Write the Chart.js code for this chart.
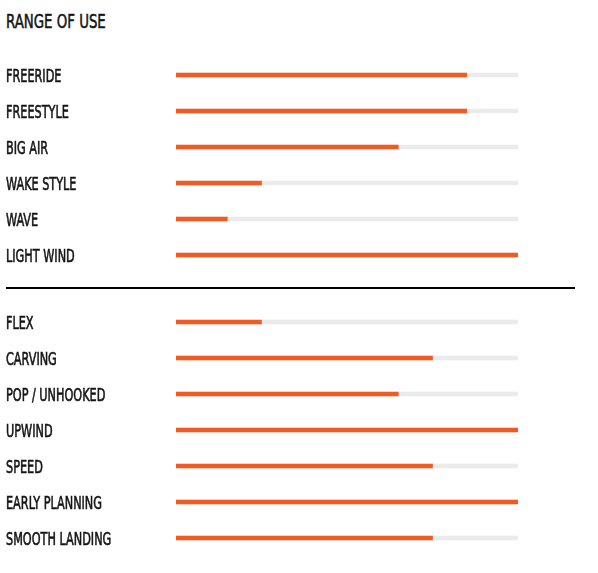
<!DOCTYPE html>
<html lang="en">
<head>
    <meta charset="UTF-8">
    <title>Range of Use</title>
    <script src="https://cdn.jsdelivr.net/npm/chart.js"></script>
    <style>
        body {
            margin: 0;
            background: #fff;
            font-family: "DejaVu Sans Condensed", "DejaVu Sans", sans-serif;
            color: #141414;
        }
        .title {
            position: absolute;
            left: 6px;
            top: 12px;
            font-size: 19px;
            line-height: 19px;
            white-space: nowrap;
            -webkit-text-stroke: 0.5px #141414;
            transform: scaleX(0.78);
            transform-origin: left top;
        }
        .box {
            position: absolute;
            left: 6px;
            width: 512px;
        }
        .divider {
            position: absolute;
            left: 6px;
            top: 287px;
            width: 569px;
            height: 2px;
            background: #000;
        }
    </style>
</head>
<body>

    <div class="title">RANGE OF USE</div>
    <div class="box" style="top:57px;height:216px"><canvas id="useChart"></canvas></div>
    <div class="divider"></div>
    <div class="box" style="top:304px;height:252px"><canvas id="feelChart"></canvas></div>

    <script>
        const useLabels = ["FREERIDE", "FREESTYLE", "BIG AIR", "WAKE STYLE", "WAVE", "LIGHT WIND"];
        const useValues = [85, 85, 65, 25, 15, 100];

        const feelLabels = ["FLEX", "CARVING", "POP / UNHOOKED", "UPWIND", "SPEED", "EARLY PLANNING", "SMOOTH LANDING"];
        const feelValues = [25, 75, 65, 100, 75, 100, 75];

        const maxValue = 100;

        // the label font is a narrow one; squeeze DejaVu to get close
        const narrowLabels = {
            id: 'narrowLabels',
            afterDraw(chart) {
                const scale = chart.scales.y;
                const ctx = chart.ctx;
                ctx.save();
                ctx.font = '18px "DejaVu Sans Condensed", "DejaVu Sans", sans-serif';
                ctx.fillStyle = '#141414';
                ctx.strokeStyle = '#141414';
                ctx.lineWidth = 0.6;
                ctx.textBaseline = 'alphabetic';
                ctx.textAlign = 'left';
                scale.ticks.forEach((t, i) => {
                    const y = scale.getPixelForTick(i);
                    const label = scale.getLabelForValue(t.value);
                    ctx.save();
                    ctx.translate(scale.left, y + 6.5);
                    ctx.scale(0.695, 1);
                    ctx.fillText(label, 0, 0);
                    ctx.strokeText(label, 0, 0);
                    ctx.restore();
                });
                ctx.restore();
            }
        };

        function makeChart(id, labels, values) {
            new Chart(document.getElementById(id), {
                type: 'bar',
                data: {
                    labels: labels,
                    datasets: [
                        {
                            data: values,
                            backgroundColor: '#f15a22',
                            barThickness: 4,
                            borderWidth: 0
                        },
                        {
                            data: labels.map(() => maxValue),
                            backgroundColor: '#ebebeb',
                            barThickness: 4,
                            borderWidth: 0
                        }
                    ]
                },
                options: {
                    indexAxis: 'y',
                    responsive: true,
                    maintainAspectRatio: false,
                    animation: false,
                    grouped: false,
                    layout: { padding: 0 },
                    plugins: {
                        legend: { display: false },
                        tooltip: { enabled: false }
                    },
                    scales: {
                        x: {
                            display: false,
                            min: 0,
                            max: maxValue
                        },
                        y: {
                            grid: { display: false },
                            border: { display: false },
                            ticks: { display: false },
                            afterFit: (scale) => {
                                scale.width = 170;
                                scale.paddingTop = 0;
                                scale.paddingBottom = 0;
                            }
                        }
                    }
                },
                plugins: [narrowLabels]
            });
        }

        makeChart('useChart', useLabels, useValues);
        makeChart('feelChart', feelLabels, feelValues);
    </script>

</body>
</html>
